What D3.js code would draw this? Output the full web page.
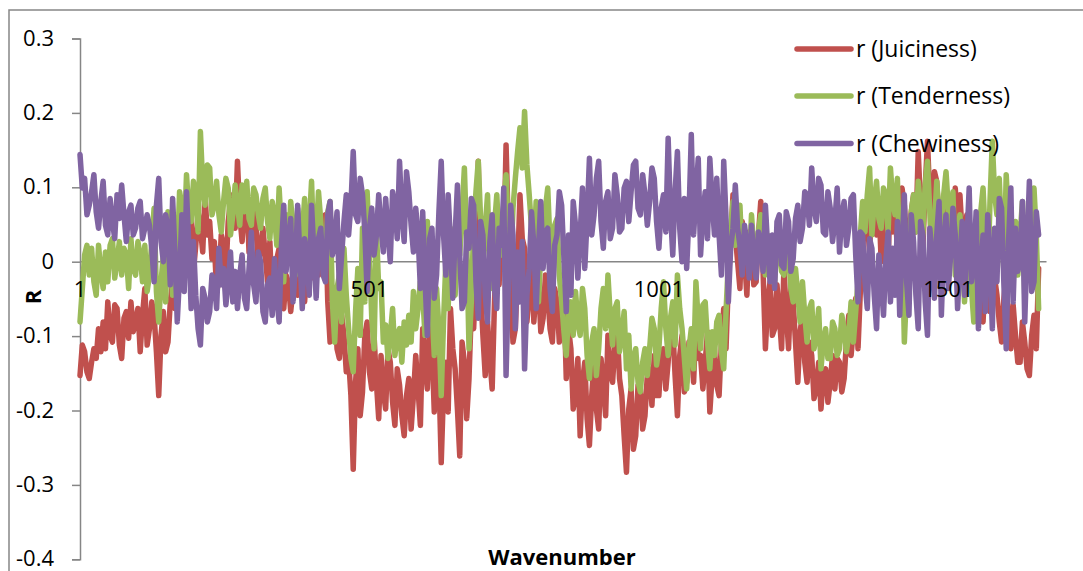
<!DOCTYPE html>
<html>
<head>
<meta charset="utf-8">
<script src="https://cdn.jsdelivr.net/npm/d3@7"></script>
<style>
  html, body { margin: 0; padding: 0; background: #ffffff; }
  svg { display: block; }
  text { font-family: "Open Sans", "Liberation Sans", sans-serif; fill: #000; }
</style>
</head>
<body>
<svg id="chart" width="1083" height="571"></svg>
<script>
// Correlation coefficient r against wavenumber index, one value every 4 wavenumbers
const categoryCount = 1668;
const sampleStep = 4;

const juiciness = [
  -0.153, -0.112, -0.121, -0.148, -0.157, -0.135, -0.117, -0.130, -0.090, -0.121, -0.081, -0.117, -0.054, -0.099, -0.108, -0.058, -0.063, -0.112, -0.130, -0.076,
  -0.067, -0.103, -0.054, -0.094, -0.081, -0.063, -0.121, -0.072, -0.036, -0.112, -0.090, -0.054, -0.072, -0.121, -0.180, -0.099, -0.067, -0.121, -0.108, -0.054,
  -0.027, -0.063, 0.022, -0.031, -0.009, 0.018, 0.045, 0.009, 0.054, -0.013, 0.022, 0.067, 0.045, 0.013, 0.090, 0.036, 0.054, 0.004, 0.027, -0.040,
  -0.027, 0.036, 0.022, -0.018, 0.054, 0.081, 0.090, 0.045,
  0.135, 0.063, 0.027, 0.072, 0.090, 0.013, 0.036, 0.067, 0.049, -0.009, 0.018, 0.045, 0.009, -0.027, 0.027, -0.049, -0.036, 0.004, 0.018, -0.054,
  -0.063, -0.018, -0.027, -0.067, -0.036, 0.009, -0.045, -0.027, -0.009, -0.054, -0.009, 0.031, -0.022, 0.004, 0.027, -0.018, 0.054, 0.004, 0.063, -0.054,
  -0.108, -0.067, -0.045, -0.117, -0.130, -0.072, -0.099, -0.148, -0.130, -0.180, -0.279, -0.162, -0.117, -0.207, -0.175, -0.099, -0.081, -0.148, -0.171, -0.099,
  -0.162, -0.211, -0.126, -0.175, -0.198, -0.117, -0.135, -0.189, -0.220, -0.144, -0.166, -0.207, -0.234, -0.180,
  -0.157, -0.225, -0.180, -0.126, -0.171, -0.220, -0.090, -0.135, -0.171, -0.081, -0.112, -0.202, -0.090, -0.153, -0.270, -0.171, -0.135, -0.202, -0.063, -0.117,
  -0.144, -0.198, -0.261, -0.108, -0.135, -0.211, -0.157, -0.063, -0.090, -0.018, 0.135, -0.036, -0.099, -0.153, -0.081, -0.130, -0.171, -0.054, 0.036, -0.031,
  0.063, 0.009, 0.157, 0.040, -0.045, -0.108, -0.090, -0.009, 0.090, 0.031, 0.018, -0.081, -0.045, 0.013, -0.081, -0.036, -0.027, -0.094, -0.076, -0.018,
  -0.045, -0.090, -0.108, -0.036, -0.054, -0.108, -0.090, -0.045, -0.157, -0.090,
  -0.117, -0.198, -0.180, -0.130, -0.234, -0.162, -0.135, -0.211, -0.247, -0.180, -0.135, -0.198, -0.225, -0.130, -0.162, -0.207, -0.099, -0.148, -0.162, -0.112,
  -0.090, -0.157, -0.180, -0.234, -0.283, -0.198, -0.171, -0.252, -0.234, -0.166, -0.171, -0.225, -0.207, -0.153, -0.144, -0.193, -0.126, -0.180, -0.180, -0.126,
  -0.117, -0.171, -0.135, -0.081, -0.090, -0.153, -0.207, -0.126, -0.099, -0.175, -0.162, -0.108, -0.117, -0.162, -0.081, -0.130, -0.126, -0.171, -0.135, -0.094,
  -0.202, -0.153, -0.117, -0.166, -0.180, -0.108, -0.063, -0.117, -0.027, 0.027, 0.090, 0.036,
  0, -0.036, 0.054, 0.004, -0.045, 0.040, 0.027, -0.031, -0.027, 0.036, 0.081, -0.013, -0.117, -0.054, -0.027, -0.099, -0.090, -0.031, -0.072, -0.117,
  -0.009, -0.067, -0.117, -0.036, -0.054, -0.108, -0.162, -0.094, -0.072, -0.135, -0.162, -0.108, -0.126, -0.184, -0.171, -0.135, -0.198, -0.153, -0.144, -0.189,
  -0.162, -0.126, -0.171, -0.130, -0.135, -0.175, -0.157, -0.108, -0.072, -0.126, -0.090, -0.049, -0.117, -0.040, 0.018, 0.063, 0.054, 0.013, 0.090, 0.045,
  0.036, 0.081, 0, 0.063, 0.036, 0.004, 0.090, 0.040, 0.081, 0.013,
  0.036, 0.099, 0.076, 0.022, 0.036, 0.067, 0.090, 0.040, 0.148, 0.076, 0.018, 0.099, 0.162, 0.085, 0.063, 0.121, 0.108, 0.049, 0.036, 0.085,
  0.009, 0.067, 0.054, 0.013, 0.099, 0.045, 0.090, 0.036, 0.022, 0.063, -0.009, 0.027, -0.045, -0.013, 0.009, -0.054, -0.081, -0.013, -0.027, -0.067,
  0.027, -0.022, -0.045, -0.081, -0.108, -0.049, -0.018, -0.090, -0.117, -0.058, -0.099, -0.135, -0.135, -0.081, -0.108, -0.144, -0.153, -0.099, -0.072, -0.117,
  -0.009
];

const tenderness = [
  -0.081, -0.036, 0.009, 0.022, -0.018, 0.018, -0.027, -0.045, 0.022, -0.013, -0.036, 0.013, -0.027, 0.022, 0.031, -0.022, 0, 0.027, -0.018, 0.018,
  0.009, -0.036, 0.031, -0.009, -0.018, 0.027, 0.009, -0.027, 0.022, -0.040, -0.018, 0.027, 0.072, -0.040, -0.081, -0.027, 0.009, -0.054, 0.067, 0.027,
  -0.045, 0.045, 0, 0.094, 0.076, 0.031, 0.117, 0.067, 0.054, 0.108, 0.090, 0.040, 0.175, 0.103, 0.076, 0.130, 0.126, 0.063, 0.076, 0.108,
  0.063, 0.040, 0.081, 0.112, 0.099, 0.036, 0.063, 0.103,
  0.076, 0.049, 0.103, 0.067, 0.108, 0.058, 0.049, 0.099, 0.090, 0.063, 0.045, 0.085, 0.099, 0.054, 0.031, 0.081, 0.063, 0.022, 0.099, 0.040,
  -0.027, 0.063, 0.009, 0.081, 0.045, -0.018, 0.072, 0.031, 0.036, 0.085, -0.027, 0.049, 0.108, 0.013, 0.036, 0.094, 0.054, -0.009, 0.013, 0.067,
  0.081, -0.054, -0.108, -0.036, -0.018, -0.081, 0.018, -0.045, -0.090, -0.130, -0.148, -0.067, -0.009, -0.099, 0.045, -0.054, 0.094, 0.013, -0.076, -0.117,
  0.045, -0.036, -0.027, -0.108, -0.085, -0.130, -0.099, -0.063, -0.126, -0.099, -0.090, -0.135, -0.081, -0.112,
  -0.072, -0.108, -0.040, -0.090, -0.063, -0.027, -0.045, -0.099, 0.054, -0.018, -0.063, -0.126, -0.036, -0.090, -0.180, -0.081, 0, -0.063, 0.045, -0.027,
  -0.045, 0.040, 0.009, 0.067, 0.126, 0.027, -0.117, -0.054, 0.045, 0.094, 0.135, 0.058, 0, 0.045, 0.090, -0.013, -0.036, 0.049, 0.090, 0.022,
  0.009, 0.076, 0.117, 0.040, -0.009, 0.072, 0.112, 0.148, 0.180, 0.126, 0.202, 0.130, 0.090, 0.045, 0.018, 0.081, -0.054, 0.013, 0.036, 0.072,
  0.099, 0.022, -0.027, 0.049, 0.058, -0.018, -0.054, -0.094, -0.126, -0.067,
  -0.054, -0.099, -0.040, -0.081, -0.099, -0.036, -0.063, -0.126, -0.157, -0.108, -0.090, -0.153, -0.117, -0.063, -0.036, -0.090, -0.018, -0.072, -0.112, -0.063,
  -0.054, -0.121, -0.099, -0.067, -0.144, -0.099, -0.171, -0.130, -0.117, -0.162, -0.175, -0.135, -0.117, -0.153, -0.117, -0.076, -0.090, -0.139, -0.117, -0.063,
  -0.027, -0.090, -0.126, -0.076, -0.054, -0.112, -0.018, -0.063, -0.090, -0.130, -0.171, -0.117, -0.090, -0.144, -0.027, -0.081, -0.117, -0.058, -0.054, -0.108,
  -0.144, -0.094, -0.126, -0.081, -0.072, -0.121, -0.144, -0.067, 0, 0.040, 0.081, 0.022,
  0.045, 0.076, 0, 0.040, 0.036, -0.009, 0.063, 0.018, -0.009, 0.040, 0.063, 0.009, -0.018, 0.036, 0.013, -0.027, -0.027, 0.022, 0.036, -0.013,
  -0.018, 0.027, 0.009, -0.036, -0.054, -0.009, -0.045, -0.081, -0.027, -0.072, -0.108, -0.063, -0.054, -0.117, -0.099, -0.063, -0.144, -0.108, -0.090, -0.130,
  -0.130, -0.081, -0.090, -0.126, -0.117, -0.072, -0.090, -0.121, -0.099, -0.054, -0.108, -0.067, -0.027, 0.036, 0.081, 0.040, 0.090, 0.126, 0.036, 0.081,
  0.108, 0.058, 0.045, 0.099, 0.090, 0.040, 0.126, 0.081, 0.063, 0.112,
  0, 0.054, -0.108, -0.036, 0.018, 0.067, 0.090, 0.040, 0.108, 0.072, 0.036, 0.103, 0.135, 0.067, -0.009, 0.049, 0.108, 0.063, 0.036, 0.090,
  0.121, 0.072, 0.045, 0.094, -0.018, 0.027, 0.063, 0.009, -0.054, 0.013, 0.036, -0.036, -0.081, 0.018, -0.009, 0.067, 0.099, 0.031, -0.027, 0.081,
  0.162, 0.090, 0.063, 0.112, 0.036, -0.013, 0.117, 0.054, -0.027, 0.022, 0.054, -0.018, 0.036, 0.081, -0.045, 0.013, 0.045, -0.031, 0.099, 0.036,
  -0.063
];

const chewiness = [
  0.144, 0.099, 0.112, 0.063, 0.076, 0.094, 0.117, 0.067, 0.045, 0.081, 0.108, 0.049, 0.036, 0.085, 0.054, 0.031, 0.090, 0.058, 0.103, 0.063,
  0.027, 0.067, 0.076, 0.036, 0.045, 0.072, 0.081, 0.031, 0.045, 0.063, 0.049, 0.018, -0.027, 0.076, 0.112, 0.027, 0, 0.063, 0.045, -0.031,
  0.085, 0.013, -0.081, -0.018, 0.063, -0.040, 0.094, 0.022, -0.063, 0.027, -0.045, -0.090, -0.112, -0.036, -0.049, -0.081, -0.067, -0.018, -0.027, -0.063,
  0.018, -0.031, -0.009, -0.058, -0.027, 0.013, -0.054, -0.013,
  -0.063, -0.018, 0.009, -0.049, -0.063, -0.009, 0.040, -0.031, -0.054, 0.013, 0, -0.067, -0.081, -0.031, -0.022, -0.072, 0.004, -0.049, -0.081, 0.022,
  0.076, -0.013, 0.027, 0.058, -0.054, -0.009, 0.076, 0.004, -0.063, 0.031, 0.009, -0.045, 0.076, 0.013, -0.049, 0.031, 0.045, -0.018, -0.027, 0.063,
  0.081, 0.009, 0.027, 0.067, -0.036, 0.009, 0.054, 0.090, 0.036, 0.076, 0.148, 0.063, 0.054, 0.112, 0.090, 0.040, -0.040, 0.045, 0.072, 0.009,
  0.036, 0.090, 0.045, 0.013, 0.085, 0.040, 0, 0.094, 0.076, 0.031, 0.135, 0.063, 0.027, 0.121,
  0.094, 0.049, 0.013, 0.072, 0.036, -0.036, 0.067, -0.022, -0.099, 0.031, 0.045, -0.049, -0.018, 0.067, 0.135, 0.036, -0.018, 0.090, 0.027, -0.049,
  0.036, 0.103, 0.009, -0.063, -0.054, 0.040, 0.018, 0.085, 0.076, -0.027, -0.076, 0.054, 0.036, -0.045, -0.081, 0.027, 0.063, -0.036, -0.063, 0.045,
  0.022, 0.099, -0.153, -0.031, 0.076, 0.036, -0.090, 0.013, -0.054, 0.027, -0.144, -0.045, -0.009, 0.067, 0.022, -0.063, 0.018, 0.081, -0.009, 0.040,
  0.045, -0.036, -0.067, 0.022, 0.036, 0.094, 0.076, 0.004, -0.067, 0.036,
  -0.045, 0.081, 0.049, -0.022, 0.036, 0.099, -0.009, 0.058, 0.139, 0.036, 0.063, 0.112, 0.135, 0.054, 0.018, 0.081, 0.094, 0.031, 0.045, 0.117,
  0.090, 0.040, 0.045, 0.099, 0.108, 0.054, 0.094, 0.130, 0.135, 0.072, 0.063, 0.117, 0.090, 0.049, 0.081, 0.126, 0.112, 0.054, 0.018, 0.072,
  0.090, 0.040, 0.166, 0.067, 0.009, 0.094, 0.148, 0.045, 0, 0.085, -0.009, 0.063, 0.171, 0.036, 0.090, 0.139, 0.009, 0.063, 0.094, 0.031,
  0.139, 0.081, 0.036, 0.112, 0.036, -0.018, 0.135, 0.058, -0.054, 0.018, 0.045, 0.103,
  0.045, 0.022, -0.018, 0.049, 0.022, -0.022, 0.049, 0.004, -0.022, 0.040, 0.027, -0.013, 0.076, 0.018, -0.027, 0.036, -0.036, 0.054, 0.063, -0.004,
  -0.009, 0.067, 0.054, -0.013, 0.004, 0.058, 0.076, 0.027, 0.045, 0.094, 0.090, 0.049, 0.126, 0.072, 0.054, 0.112, 0.103, 0.040, 0.036, 0.094,
  0.072, 0.027, 0.054, 0.099, 0.013, 0.063, 0.081, 0.022, 0.045, 0.085, 0.090, 0.009, -0.054, 0.040, 0.036, -0.027, -0.063, 0.031, 0.018, -0.045,
  -0.090, 0.009, -0.027, -0.072, 0, 0.040, -0.054, 0.018, -0.045, 0.054,
  -0.072, 0.018, 0.090, -0.027, -0.072, 0.063, 0.027, -0.045, -0.090, 0.054, 0.036, -0.054, -0.099, 0.045, 0.009, -0.049, 0.036, 0.081, -0.072, 0.022,
  0.063, -0.036, 0.009, 0.072, 0.036, -0.063, 0, 0.054, -0.045, 0.027, 0.099, -0.027, 0, 0.067, -0.090, -0.013, 0.036, -0.067, 0.063, 0.004,
  -0.090, 0.045, -0.027, 0.085, 0.072, -0.031, -0.117, 0.027, 0.099, -0.054, 0.045, -0.013, 0, 0.081, -0.081, 0.018, 0.108, -0.040, -0.027, 0.067,
  0.036
];

const seriesNames = ["r (Juiciness)", "r (Tenderness)", "r (Chewiness)"];
const seriesColors = ["#C0504D", "#9BBB59", "#8064A2"];
const xTickValues = [1, 501, 1001, 1501];
const yTickValues = [-0.4, -0.3, -0.2, -0.1, 0, 0.1, 0.2, 0.3];

const svg = d3.select("#chart");

// chart frame (runs off the right and bottom edges)
svg.append("rect")
  .attr("x", 9).attr("y", 10)
  .attr("width", 1200).attr("height", 700)
  .attr("fill", "#ffffff")
  .attr("stroke", "#868686")
  .attr("stroke-width", 1.5);

const x = d3.scaleLinear().domain([1, categoryCount]).range([80, 1045]);
const y = d3.scaleLinear().domain([-0.4, 0.3]).range([559.3, 38.5]);

// value axis; labels use a plain hyphen for negatives
const yAxis = svg.append("g")
  .attr("transform", "translate(80,0)")
  .call(d3.axisLeft(y)
    .tickValues(yTickValues)
    .tickSize(8)
    .tickPadding(18)
    .tickFormat(d => d === 0 ? "0" : (d < 0 ? "-" : "") + Math.abs(d).toFixed(1)));
yAxis.select(".domain").attr("stroke", "#868686").attr("stroke-width", 1.5);
yAxis.selectAll(".tick line").attr("stroke", "#868686").attr("stroke-width", 1.5);
yAxis.selectAll(".tick text")
  .style("font-family", "'Open Sans', sans-serif")
  .style("font-size", "22px")
  .attr("dy", "0.3em")
  .attr("fill", "#000");

// category axis crosses at zero
svg.append("line")
  .attr("x1", 80).attr("x2", 1046.5)
  .attr("y1", y(0)).attr("y2", y(0))
  .attr("stroke", "#868686").attr("stroke-width", 1.5);

// series
const line = d3.line()
  .x((d, i) => x(1 + i * sampleStep))
  .y(d => y(d));

[juiciness, tenderness, chewiness].forEach((vals, k) => {
  svg.append("path")
    .datum(vals)
    .attr("d", line)
    .attr("fill", "none")
    .attr("stroke", seriesColors[k])
    .attr("stroke-width", 5.5)
    .attr("stroke-linejoin", "round")
    .attr("stroke-linecap", "round");
});

// category labels
svg.append("g").selectAll("text")
  .data(xTickValues)
  .join("text")
  .attr("x", d => x(d))
  .attr("y", 296.5)
  .attr("text-anchor", "middle")
  .style("font-size", "22px")
  .text(d => d);

// axis titles
svg.append("text")
  .attr("x", 562).attr("y", 565)
  .attr("text-anchor", "middle")
  .style("font-size", "22px")
  .style("font-weight", "bold")
  .text("Wavenumber");

svg.append("text")
  .attr("transform", "translate(41,297) rotate(-90)")
  .attr("text-anchor", "middle")
  .style("font-size", "22px")
  .style("font-weight", "bold")
  .text("R");

// legend
const legendY = [49, 96, 143.5];
const legend = svg.append("g");
seriesNames.forEach((name, k) => {
  legend.append("line")
    .attr("x1", 797).attr("x2", 851)
    .attr("y1", legendY[k]).attr("y2", legendY[k])
    .attr("stroke", seriesColors[k])
    .attr("stroke-width", 5.5)
    .attr("stroke-linecap", "round");
  legend.append("text")
    .attr("x", 856).attr("y", legendY[k] + 8)
    .style("font-size", "23px")
    .text(name);
});
</script>
</body>
</html>
